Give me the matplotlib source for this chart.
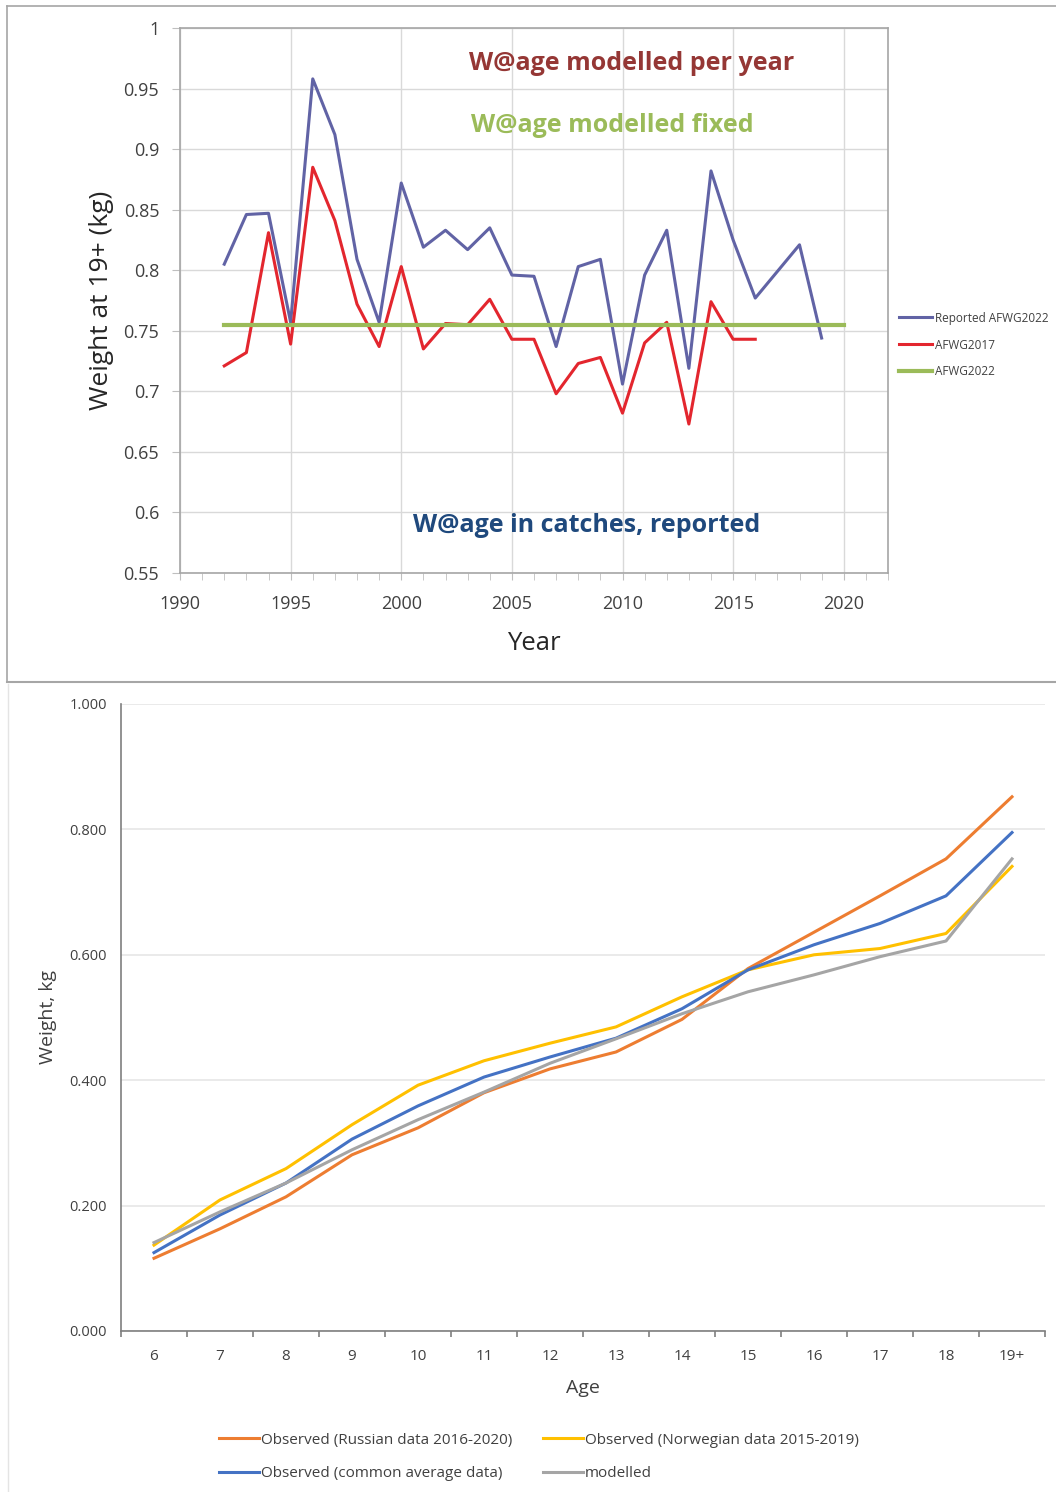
import matplotlib
matplotlib.use("Agg")
import matplotlib.pyplot as plt
from matplotlib.lines import Line2D
from matplotlib.ticker import MultipleLocator, FixedLocator, FuncFormatter
import numpy as np

plt.rcParams['font.family'] = ['Open Sans', 'DejaVu Sans']

# ---------------- Data: top chart ----------------
years_reported = list(range(1992, 2020))
reported_afwg2022 = [0.805, 0.846, 0.847, 0.757, 0.958, 0.912, 0.809, 0.757, 0.872, 0.819,
                     0.833, 0.817, 0.835, 0.796, 0.795, 0.737, 0.803, 0.809, 0.706, 0.796,
                     0.833, 0.719, 0.882, 0.825, 0.777, 0.799, 0.821, 0.744]
years_2017 = list(range(1992, 2017))
afwg2017 = [0.721, 0.732, 0.831, 0.739, 0.885, 0.841, 0.772, 0.737, 0.803, 0.735,
            0.756, 0.755, 0.776, 0.743, 0.743, 0.698, 0.723, 0.728, 0.682, 0.740,
            0.757, 0.673, 0.774, 0.743, 0.743]
years_fixed = [1992, 2020]
afwg2022_fixed = [0.755, 0.755]

# ---------------- Data: bottom chart ----------------
ages = ['6', '7', '8', '9', '10', '11', '12', '13', '14', '15', '16', '17', '18', '19+']
obs_russian = [0.116, 0.163, 0.214, 0.281, 0.324, 0.380, 0.418, 0.445, 0.497, 0.578,
               0.636, 0.694, 0.753, 0.852]
obs_norwegian = [0.137, 0.209, 0.259, 0.329, 0.392, 0.431, 0.459, 0.485, 0.533, 0.576,
                 0.600, 0.610, 0.634, 0.741]
obs_common = [0.125, 0.185, 0.236, 0.306, 0.359, 0.405, 0.437, 0.467, 0.514, 0.576,
              0.616, 0.650, 0.694, 0.795]
modelled = [0.141, 0.190, 0.236, 0.289, 0.337, 0.381, 0.427, 0.466, 0.506, 0.541,
            0.568, 0.597, 0.622, 0.753]

W, H = 1056, 1492
fig = plt.figure(figsize=(W / 100, H / 100), dpi=100)


def fx(px):
    return px / W


def fy(py):
    return 1 - py / H


# panel borders
fig.add_artist(Line2D([fx(7), fx(7)], [fy(6), fy(682)], color='#A6A6A6', lw=1.2))
fig.add_artist(Line2D([fx(7), 1], [fy(6), fy(6)], color='#A6A6A6', lw=1.2))
fig.add_artist(Line2D([fx(7), 1], [fy(682), fy(682)], color='#A6A6A6', lw=1.5))
fig.add_artist(Line2D([fx(8), fx(8)], [fy(684), 0], color='#E4E4E4', lw=1))

# ---------------- Top chart ----------------
ax1 = fig.add_axes([fx(180), fy(573), fx(888) - fx(180), fy(28) - fy(573)])
ax1.plot(years_reported, reported_afwg2022, color='#6163A5', lw=2.2, label='Reported AFWG2022', zorder=3)
ax1.plot(years_2017, afwg2017, color='#E3262E', lw=2.2, label='AFWG2017', zorder=4)
ax1.plot(years_fixed, afwg2022_fixed, color='#9BBB59', lw=3.0, label='AFWG2022', zorder=5)

ax1.set_xlim(1990, 2022)
ax1.set_ylim(0.55, 1.0)
ax1.xaxis.set_major_locator(FixedLocator([1990, 1995, 2000, 2005, 2010, 2015, 2020]))
ax1.xaxis.set_minor_locator(MultipleLocator(1))
ax1.yaxis.set_major_locator(MultipleLocator(0.05))
ax1.yaxis.set_major_formatter(FuncFormatter(lambda v, p: ('%.2f' % v).rstrip('0').rstrip('.') if abs(v - 1) > 1e-9 else '1'))
ax1.grid(True, which='major', color='#D9D9D9', lw=1)
ax1.set_axisbelow(True)
for s in ax1.spines.values():
    s.set_color('#A6A6A6')
    s.set_linewidth(1.2)
ax1.tick_params(axis='x', which='both', direction='out', length=5, color='#BFBFBF',
                labelsize=13, labelcolor='#404040', pad=11)
ax1.tick_params(axis='y', which='major', direction='out', length=6, color='#BFBFBF',
                labelsize=13, labelcolor='#404040', pad=9)
ax1.set_ylabel('Weight at 19+ (kg)', fontsize=19, color='#262626', labelpad=7)
ax1.set_xlabel('Year', fontsize=18.5, color='#262626', labelpad=13)

fig.text(fx(632), fy(63), 'W@age modelled per year', color='#953735', fontsize=18,
         fontweight='bold', ha='center', va='center')
fig.text(fx(612), fy(126), 'W@age modelled fixed', color='#9BBB59', fontsize=18,
         fontweight='bold', ha='center', va='center')
fig.text(fx(587), fy(526), 'W@age in catches, reported', color='#1F497D', fontsize=18,
         fontweight='bold', ha='center', va='center')

h1, l1 = ax1.get_legend_handles_labels()
fig.legend(h1, l1, loc='center left', bbox_to_anchor=(fx(899), fy(345)), frameon=False,
           fontsize=8.5, handlelength=2.8, handletextpad=0.25, labelspacing=1.18,
           borderpad=0, borderaxespad=0, labelcolor='#404040')

# ---------------- Bottom chart ----------------
ax2 = fig.add_axes([fx(121), fy(1331), fx(1045) - fx(121), fy(704) - fy(1331)])
xs = np.arange(len(ages))
l_r, = ax2.plot(xs, obs_russian, color='#ED7D31', lw=2.2, label='Observed (Russian data 2016-2020)', zorder=3)
l_n, = ax2.plot(xs, obs_norwegian, color='#FFC000', lw=2.2, label='Observed (Norwegian data 2015-2019)', zorder=3)
l_c, = ax2.plot(xs, obs_common, color='#4472C4', lw=2.2, label='Observed (common average data)', zorder=4)
l_m, = ax2.plot(xs, modelled, color='#A5A5A5', lw=2.2, label='modelled', zorder=5)

ax2.set_xlim(-0.5, len(ages) - 0.5)
ax2.set_ylim(0, 1.0)
ax2.set_xticks(xs)
ax2.set_xticklabels(ages)
ax2.xaxis.set_minor_locator(FixedLocator(np.arange(len(ages) + 1) - 0.5))
ax2.yaxis.set_major_locator(MultipleLocator(0.2))
ax2.yaxis.set_major_formatter(FuncFormatter(lambda v, p: '%.3f' % v))
ax2.grid(True, axis='y', color='#E6E6E6', lw=1.2)
ax2.set_axisbelow(True)
ax2.spines['top'].set_visible(False)
ax2.spines['right'].set_visible(False)
ax2.spines['left'].set_color('#7F7F7F')
ax2.spines['bottom'].set_color('#7F7F7F')
ax2.spines['left'].set_linewidth(1.2)
ax2.spines['bottom'].set_linewidth(1.2)
ax2.tick_params(axis='x', which='major', length=0, labelsize=11, labelcolor='#404040', pad=13)
ax2.tick_params(axis='x', which='minor', direction='out', length=4.5, color='#7F7F7F', width=1.2)
ax2.tick_params(axis='y', which='major', length=0, labelsize=10.5, labelcolor='#404040', pad=10)
ax2.set_xlabel('Age', fontsize=14, color='#404040', labelpad=11)
ax2.set_ylabel('Weight, kg', fontsize=14, color='#404040', labelpad=9)

fig.legend([l_r, l_c, l_n, l_m], [l_r.get_label(), l_c.get_label(), l_n.get_label(), l_m.get_label()],
           ncol=2, loc='center left', bbox_to_anchor=(fx(219), fy(1457)), frameon=False,
           fontsize=11, handlelength=2.6, handletextpad=0.15, labelspacing=1.2,
           columnspacing=2.0, borderpad=0, borderaxespad=0, labelcolor='#404040')

fig.savefig('out.png', dpi=100)
